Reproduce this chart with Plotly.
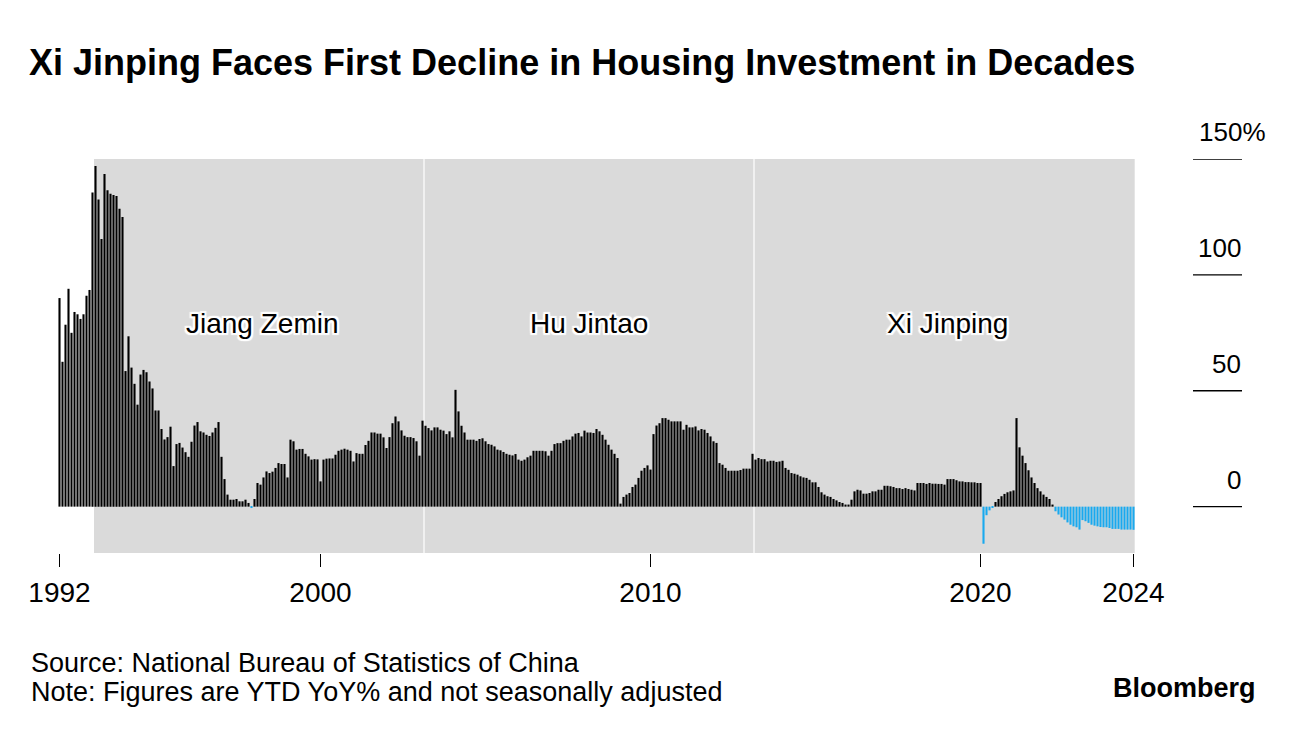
import plotly.graph_objects as go

# ---------------- data (YTD YoY %, Feb..Dec each year; NBS has no January) ----------------
yoy_1990s = [
    # 1992
    90, 62.5, 78.5, 94, 75, 84, 83, 81, 83, 91, 93.5,
    # 1993
    135.5, 147, 132.5, 115.5, 143.5, 136.5, 135, 134.5, 134, 128.5, 125,
    # 1994
    58.5, 73.5, 60, 53, 44, 57, 59, 58, 54, 51, 41.5,
    # 1995
    41.5, 33.5, 29, 30, 34.5, 17.5, 27, 27.5, 25.5, 23.5, 21.5,
    # 1996
    28, 35, 36.5, 32.5, 32, 31, 30.5, 32, 34, 36.5, 21.5,
    # 1997
    11.9, 5.2, 3, 3, 3.3, 2.3, 2.3, 3, 1.6, -0.6, 3.3,
    # 1998
    10.2, 9.5, 12.6, 15.2, 14.5, 15.1, 16.7, 18.8, 18.4, 18.4, 12.6,
    # 1999
    28.9, 28.2, 24.6, 24.9, 24.9, 22.8, 21.7, 20.3, 20.5, 20.4, 10.9,
]
yoy_2000s = [
    # 2000
    20.3, 20.7, 20.8, 20.8, 22.4, 24.1, 24.6, 25, 24.6, 24.1, 19.5,
    # 2001
    23.1, 22.8, 22.8, 26.6, 28.4, 32, 32, 31.5, 31.5, 29.9, 25.3,
    # 2002
    30, 36, 38.9, 36.8, 32.9, 30.6, 30, 30, 29.6, 28.2, 22,
    # 2003
    37.1, 34.9, 33.9, 32.9, 34.2, 34.2, 33.2, 32.8, 31.3, 32.5, 29.9,
    # 2004
    50.4, 41.1, 34.9, 32, 28.9, 28.9, 28.9, 28.4, 29.2, 29.5, 28.2,
    # 2005
    27, 26.7, 26, 24.6, 24.3, 23.6, 22.8, 22.4, 22.1, 22.7, 20.3,
    # 2006
    19.8, 20.3, 21.3, 22, 24.1, 24.1, 24.1, 24.1, 23.9, 22, 24.1,
    # 2007
    27, 27.4, 27.4, 28.4, 28.9, 28.9, 30.3, 31.5, 31.8, 30.3, 32.8,
    # 2008
    32, 32, 31.8, 33.5, 32.5, 31, 28.9, 26.7, 24.6, 22.8, 21,
    # 2009
    1.3, 4.2, 5.2, 5.9, 8.5, 9.5, 12.4, 15.5, 16.7, 17.8, 16,
]
yoy_2010s = [
    # 2010
    31.3, 35, 36, 38.2, 38.2, 37.5, 36.8, 36.8, 36.8, 36.8, 33.2,
    # 2011
    35.3, 34.2, 34.2, 34.6, 32.9, 33.5, 33.2, 31.8, 30.3, 28.2, 27.5,
    # 2012
    18.8, 18.1, 16.7, 15.5, 15.5, 15.5, 15.5, 15.8, 16.4, 16.4, 16.4,
    # 2013
    22.8, 20.3, 21, 20.5, 20.5, 19.5, 19.8, 19.8, 19.3, 19.5, 19.8,
    # 2014
    16.7, 15.9, 14.5, 14.2, 13.8, 13.1, 12.6, 12.4, 11.6, 10.5, 10.5,
    # 2015
    8.5, 6.2, 5.2, 4.5, 4.2, 3.3, 2.7, 2, 1.6, 0.9, 0.9,
    # 2016
    3, 6.6, 7.3, 7, 5.6, 5.6, 5.9, 6.6, 6.6, 7.3, 7.3,
    # 2017
    9, 9, 8.8, 8.5, 8, 8, 7.6, 8, 7.6, 7.3, 7,
    # 2018
    10.2, 10.2, 10.2, 9.8, 10.2, 9.9, 9.9, 9.8, 9.8, 9.5, 11.9,
    # 2019
    11.9, 11.9, 11.4, 10.9, 10.9, 10.6, 10.6, 10.5, 10.5, 10.2, 10.2,
]
yoy_2020s = [
    # 2020
    -16, -3.7, -1.6, -0.3, 2, 3.3, 4.5, 5.5, 6.2, 6.6, 7,
    # 2021
    38.2, 25.6, 22, 18.8, 15.7, 12.6, 10.2, 8, 6.6, 5.2, 4.2,
    # 2022
    3.3, 0.9, -2, -3.4, -4.6, -5.6, -6.8, -7.8, -8.5, -8.9, -9.9,
    # 2023
    -5.8, -6.3, -7, -7.8, -8.2, -8.5, -8.8, -8.9, -8.9, -9.2, -9.6,
    # 2024 (Feb..Aug)
    -9.6, -9.6, -9.9, -9.9, -9.9, -9.9, -10,
]

first_year, last_year, last_month = 1992, 2024, 8
months = []
for yr in range(first_year, last_year + 1):
    for mo in range(2, 13):
        if yr == last_year and mo > last_month:
            break
        months.append(f"{yr}-{mo:02d}")

values = yoy_1990s + yoy_2000s + yoy_2010s + yoy_2020s

tick_months = ["1992-02", "1999-12", "2009-12", "2019-12", "2024-08"]
tick_labels = ["1992", "2000", "2010", "2020", "2024"]

leaders = ["Jiang Zemin", "Hu Jintao", "Xi Jinping"]
leader_start = ["1993-03", "2003-03", "2013-03"]

y_ticks = [0, 50, 100, 150]
y_tick_labels = ["0", "50", "100", "150%"]

title = "Xi Jinping Faces First Decline in Housing Investment in Decades"
source = "Source: National Bureau of Statistics of China"
note = "Note: Figures are YTD YoY% and not seasonally adjusted"

# ---------------- styling / layout ----------------
W, H = 1296, 732
L, R, T, B = 58, 161, 159, 179
PW = W - L - R
PH = H - T - B
FONT = "Liberation Sans, Arial, sans-serif"
BLACK = "#000000"
BLUE = "#19a9ef"
SHADE = "#dadada"


def px_x(px):
    return (px - L) / PW


def px_y(py):
    return (H - B - py) / PH


colors = [BLUE if v < 0 else BLACK for v in values]

fig = go.Figure()
fig.add_trace(go.Bar(
    x=months, y=values,
    marker=dict(color=colors, line=dict(width=0)),
    hoverinfo="x+y",
))

n = len(months)
shapes = []
# shaded leadership period
first_idx = months.index(leader_start[0]) - 0.5
shapes.append(dict(type="rect", xref="x", yref="y", x0=first_idx, x1=n - 0.6,
                   y0=-20, y1=150, fillcolor=SHADE, line=dict(width=0), layer="below"))
for start in leader_start[1:]:
    xi = months.index(start) - 0.5
    shapes.append(dict(type="line", xref="x", yref="y", x0=xi, x1=xi, y0=-20, y1=150,
                       line=dict(color="white", width=1.2), layer="below"))
# right-side y gridline stubs
for v in y_ticks:
    shapes.append(dict(type="line", xref="paper", yref="y", x0=px_x(1193), x1=px_x(1242),
                       y0=v, y1=v, line=dict(color=BLACK, width=1.3)))

annotations = []
for v, lab in zip(y_ticks, y_tick_labels):
    if lab.endswith("%"):
        annotations.append(dict(xref="paper", yref="y", x=px_x(1197), y=v, yshift=27,
                                text=lab, showarrow=False, xanchor="left", yanchor="middle",
                                font=dict(family=FONT, size=26, color=BLACK)))
    else:
        annotations.append(dict(xref="paper", yref="y", x=px_x(1243), y=v, yshift=27,
                                text=lab, showarrow=False, xanchor="right", yanchor="middle",
                                font=dict(family=FONT, size=26, color=BLACK)))

label_px = [262, 589, 947]
halo = ("2px 0 1px white, -2px 0 1px white, 0 2px 1px white, 0 -2px 1px white, "
        "2px 2px 1px white, -2px -2px 1px white, 2px -2px 1px white, -2px 2px 1px white")
for name, lx in zip(leaders, label_px):
    annotations.append(dict(xref="paper", yref="paper", x=px_x(lx), y=px_y(323),
                            text=name, showarrow=False, xanchor="center", yanchor="middle",
                            font=dict(family=FONT, size=28, color=BLACK, shadow=halo)))

annotations.append(dict(xref="paper", yref="paper", x=px_x(29), y=px_y(663), text=source,
                        showarrow=False, xanchor="left", yanchor="middle",
                        font=dict(family=FONT, size=27, color=BLACK)))
annotations.append(dict(xref="paper", yref="paper", x=px_x(29), y=px_y(692), text=note,
                        showarrow=False, xanchor="left", yanchor="middle",
                        font=dict(family=FONT, size=27, color=BLACK)))
annotations.append(dict(xref="paper", yref="paper", x=px_x(1258), y=px_y(688),
                        text="<b>Bloomberg</b>", showarrow=False, xanchor="right",
                        yanchor="middle", font=dict(family=FONT, size=27, color=BLACK)))

fig.update_layout(
    width=W, height=H,
    margin=dict(l=L, r=R, t=T, b=B, pad=0),
    paper_bgcolor="white", plot_bgcolor="white",
    showlegend=False,
    bargap=0.3,
    title=dict(text=f"<b>{title}</b>", x=29 / W, xref="container", xanchor="left",
               y=1 - 62 / H, yref="container", yanchor="middle",
               font=dict(family=FONT, size=36, color=BLACK)),
    xaxis=dict(type="category", categoryorder="array", categoryarray=months,
               range=[-0.5, n - 0.5], showgrid=False, zeroline=False, showline=False,
               tickmode="array", tickvals=tick_months, ticktext=tick_labels,
               ticks="outside", ticklen=13, tickwidth=1.3, tickcolor=BLACK,
               tickfont=dict(family=FONT, size=28, color=BLACK), ticklabelstandoff=1,
               fixedrange=True),
    yaxis=dict(range=[-20, 150], showgrid=False, zeroline=False, showline=False,
               showticklabels=False, ticks="", fixedrange=True),
    shapes=shapes,
    annotations=annotations,
)

fig.write_html("out.html", config={"displayModeBar": False},
               post_script="document.body.style.margin='0';document.body.style.padding='0';")
